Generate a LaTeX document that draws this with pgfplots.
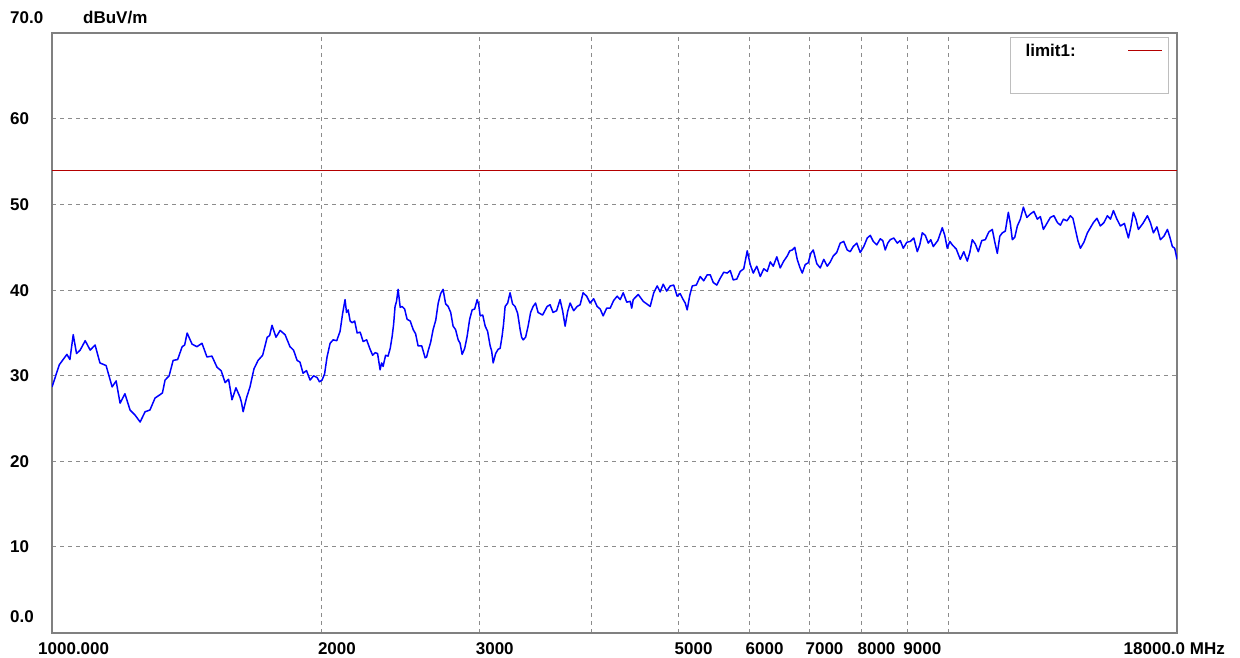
\documentclass[border=0pt]{standalone}
\usepackage{pgfplots}
\usepackage{pgfplotstable}
\pgfplotsset{compat=1.18}
\usepackage{fontspec}
\setmainfont{Liberation Sans}
\definecolor{trace}{RGB}{0,0,255}
\definecolor{limitred}{RGB}{180,0,0}
\definecolor{framegray}{RGB}{128,128,128}
\definecolor{gridgray}{RGB}{140,140,140}
\definecolor{leggray}{RGB}{190,190,190}
\pgfplotstableread{
f v
1000 28.7
1019 31.3
1039 32.5
1047 31.9
1056 34.8
1065 32.6
1075 33.0
1089 34.1
1103 33.0
1117 33.6
1131 31.5
1149 31.2
1167 28.7
1179 29.4
1191 26.8
1206 27.9
1222 26.0
1238 25.4
1254 24.6
1270 25.8
1286 26.0
1303 27.4
1320 27.8
1328 28.0
1337 29.5
1351 30.0
1365 31.8
1381 31.9
1397 33.4
1406 33.6
1415 35.0
1433 33.7
1451 33.4
1470 33.8
1489 32.2
1508 32.3
1528 31.0
1544 30.6
1560 29.2
1574 29.6
1588 27.2
1604 28.6
1621 27.5
1627 26.9
1634 25.8
1648 27.4
1663 28.7
1680 30.8
1698 31.8
1718 32.4
1738 34.5
1749 34.7
1760 35.9
1778 34.5
1797 35.3
1820 34.8
1843 33.4
1860 33.0
1877 31.8
1891 31.6
1906 30.3
1923 30.6
1941 29.5
1958 30.0
1976 29.8
1988 29.3
2001 29.5
2014 30.2
2027 32.2
2043 33.8
2059 34.2
2078 34.1
2096 35.2
2110 37.3
2123 38.9
2131 37.4
2140 37.7
2151 36.4
2162 36.2
2176 36.4
2190 35.0
2207 35.1
2224 34.0
2244 34.2
2264 33.1
2279 32.4
2294 32.7
2308 32.6
2323 30.7
2332 31.5
2341 31.1
2356 32.4
2371 32.3
2384 33.2
2396 34.6
2405 36.0
2414 38.1
2423 38.7
2433 40.1
2446 38.0
2458 38.1
2474 37.8
2490 36.6
2510 36.4
2529 35.4
2545 34.9
2561 33.5
2585 33.5
2608 32.1
2618 32.2
2628 32.9
2645 33.9
2662 35.4
2680 36.5
2697 38.5
2714 39.6
2731 40.1
2749 38.4
2767 38.1
2785 37.4
2802 35.8
2820 35.4
2839 34.2
2853 33.8
2868 32.5
2887 33.2
2905 34.6
2924 36.6
2943 37.7
2962 37.8
2981 38.9
2993 38.3
3004 37.0
3024 37.1
3043 35.8
3062 35.2
3082 33.5
3094 32.9
3106 31.5
3126 32.6
3146 33.1
3162 33.2
3178 34.6
3190 36.0
3203 38.1
3224 38.5
3244 39.7
3265 38.4
3286 38.1
3308 37.3
3329 35.4
3342 34.5
3355 34.2
3376 34.5
3398 35.8
3420 37.4
3442 38.1
3464 38.5
3486 37.4
3527 37.1
3568 38.1
3595 38.3
3623 37.4
3656 37.6
3689 38.9
3713 37.6
3737 35.8
3761 37.5
3785 38.5
3820 37.6
3854 38.1
3884 38.3
3914 39.7
3950 39.3
3985 38.5
4021 39.0
4057 38.1
4089 37.8
4120 37.0
4158 37.9
4195 37.9
4233 38.8
4271 39.3
4305 38.9
4338 39.7
4378 38.6
4417 38.7
4434 37.9
4451 38.9
4509 39.5
4567 38.7
4608 38.4
4649 38.1
4692 39.7
4734 40.5
4770 39.8
4807 40.7
4851 39.9
4895 40.5
4939 40.6
4983 39.3
5022 39.6
5061 38.9
5087 38.5
5113 37.7
5147 39.4
5180 40.5
5234 40.6
5287 41.6
5335 41.1
5383 41.8
5425 41.8
5467 40.9
5517 40.6
5566 41.4
5617 42.1
5667 42.0
5711 42.3
5755 41.2
5808 41.3
5860 42.2
5913 42.5
5966 44.6
6012 43.0
6059 42.0
6114 42.8
6169 41.6
6225 42.5
6281 42.2
6330 43.3
6379 42.8
6437 43.9
6494 42.6
6553 43.4
6612 44.0
6655 44.6
6698 44.7
6741 45.0
6784 43.6
6828 42.7
6872 42.0
6925 43.0
6979 43.2
7024 44.3
7069 44.7
7133 43.1
7197 42.6
7263 43.6
7328 42.8
7385 43.3
7441 44.0
7508 44.4
7576 45.5
7645 45.7
7714 44.7
7774 44.5
7834 45.1
7905 45.5
7976 44.4
8048 45.1
8121 46.1
8184 46.4
8247 45.7
8322 45.3
8397 46.0
8451 45.8
8505 44.7
8560 45.5
8615 45.9
8693 46.1
8772 45.5
8840 45.8
8908 44.9
8989 45.6
9070 45.7
9152 46.1
9234 44.5
9294 45.3
9354 46.7
9427 46.4
9499 45.5
9560 45.9
9622 45.1
9735 45.8
9847 47.3
9910 46.4
9974 44.9
10038 45.7
10103 45.3
10208 44.8
10313 43.6
10406 44.5
10500 43.4
10568 44.4
10636 45.9
10718 45.4
10801 44.5
10899 45.8
10997 45.9
11097 46.8
11197 47.1
11270 45.6
11342 44.3
11415 46.3
11489 46.7
11578 46.9
11668 49.1
11728 47.8
11788 45.9
11864 46.2
11941 47.5
12034 48.3
12127 49.7
12237 48.5
12347 48.9
12459 49.2
12571 48.3
12669 48.6
12767 47.1
12883 47.8
12999 48.5
13117 48.7
13235 47.9
13338 47.6
13441 48.3
13563 48.1
13685 48.7
13774 48.4
13862 47.1
13951 45.8
14041 44.9
14168 45.6
14296 46.7
14407 47.3
14518 47.9
14650 48.4
14782 47.5
14916 47.9
15050 48.7
15167 48.3
15284 49.3
15422 48.3
15561 47.5
15722 47.8
15884 46.1
15986 47.4
16089 49.1
16193 48.3
16298 47.1
16488 47.8
16679 48.7
16808 47.9
16938 46.7
17092 47.4
17246 45.9
17402 46.3
17559 47.1
17671 46.2
17783 45.1
17891 44.9
18000 43.6
}\meas
\pgfplotstableread{
f v
1000 54
18000 54
}\limitline
\begin{document}
\begin{tikzpicture}[x=1pt,y=1pt]
\useasboundingbox (0,0) rectangle (1240,658);
\begin{axis}[
  at={(52pt,25.4pt)}, anchor=south west,
  scale only axis, width=1125pt, height=599.2pt,
  xmode=log, xmin=1000, xmax=18000, ymin=0, ymax=70,
  xtick={2000,3000,4000,5000,6000,7000,8000,9000,10000},
  xticklabels={2000,3000,,5000,6000,7000,8000,9000,},
  ytick={10,20,30,40,50,60},
  yticklabels={10,20,30,40,50,60},
  minor xtick={}, minor ytick={},
  xmajorgrids, ymajorgrids,
  major grid style={gridgray, line width=1pt, dash pattern=on 4pt off 4pt},
  major tick length=0pt,
  axis line style={framegray, line width=2pt},
  tick label style={font=\fontsize{17}{19}\selectfont\bfseries, inner sep=0pt},
  xticklabel style={anchor=north west, xshift=-4pt, yshift=-9.4pt},
  yticklabel style={anchor=west, xshift=-42pt},
  legend plot pos=right,
  legend cell align=left,
  legend image code/.code={\draw[limitred, line width=1.3pt] (0pt,15pt) -- (34pt,15pt);},
  legend style={at={(0.8516,0.994)}, anchor=north west, draw=leggray,
    line width=1pt, fill=white, inner xsep=6pt, inner ysep=0pt,
    column sep=0pt,
    nodes={inner sep=0pt, text width=111pt, text height=19pt, text depth=37pt,
      font=\fontsize{17}{19}\selectfont\bfseries}},
]
\addplot[trace, line width=1.5pt, line join=round, forget plot] table[x=f, y=v] {\meas};
\addplot[limitred, line width=1.3pt] table[x=f, y=v] {\limitline};
\addlegendentry{\hspace*{9pt}limit1:}
\end{axis}
\begin{scope}[font=\fontsize{17}{19}\selectfont\bfseries, inner sep=0pt]
\node[anchor=west] at (10,640) {70.0};
\node[anchor=west] at (83,640) {dBuV/m};
\node[anchor=west] at (10,41) {0.0};
\node[anchor=north west] at (38,16) {1000.000};
\node[anchor=north east] at (1225,16) {18000.0 MHz};
\end{scope}
\end{tikzpicture}
\end{document}
